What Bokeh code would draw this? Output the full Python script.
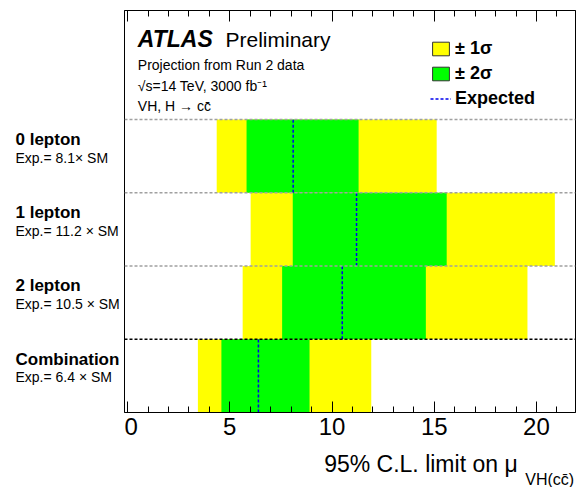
from bokeh.plotting import figure
from bokeh.models import (Range1d, ColumnDataSource, Span, LinearAxis,
                          SingleIntervalTicker, Legend, LegendItem, Spacer,
                          CustomJSTickFormatter)
from bokeh.layouts import row, column
from bokeh.embed import file_html
from bokeh.resources import INLINE
from bokeh.core.properties import value

# ---- data ----
categories = ["0 lepton", "1 lepton", "2 lepton", "Combination"]
exp_labels = ["Exp.= 8.1\u00d7 SM", "Exp.= 11.2 \u00d7 SM", "Exp.= 10.5 \u00d7 SM", "Exp.= 6.4 \u00d7 SM"]
expected = [8.1, 11.2, 10.5, 6.4]
band1_lo = [4.36, 6.02, 5.63, 3.44]     # yellow (outer)
band1_hi = [15.12, 20.90, 19.56, 11.92]
band2_lo = [5.82, 8.08, 7.56, 4.59]     # green (inner)
band2_hi = [11.30, 15.61, 14.59, 8.90]
x_ticks_major = 5

FONT = "Liberation Sans"

n = len(categories)
bottoms = [n - 1 - i for i in range(n)]
tops = [b + 1 for b in bottoms]

xr = Range1d(-0.15, 21.91)
yr = Range1d(0, 5.49)

# ---------------- main plot ----------------
p = figure(width=452, height=445, output_backend="svg", toolbar_location=None,
           x_range=xr, y_range=yr, x_axis_location=None, y_axis_location=None,
           min_border_left=0, min_border_right=1, min_border_top=10, min_border_bottom=33)
p.outline_line_color = "black"
p.outline_line_width = 1
p.background_fill_color = "white"
p.border_fill_color = "white"
p.xgrid.visible = False
p.ygrid.visible = False

xa = LinearAxis(ticker=SingleIntervalTicker(interval=x_ticks_major, num_minor_ticks=5),
                major_tick_in=11, major_tick_out=0, minor_tick_in=6, minor_tick_out=0,
                major_label_text_font=FONT, major_label_text_font_size="24px",
                major_label_text_color="black", major_label_standoff=5,
                axis_line_color="black", major_tick_line_color="black",
                minor_tick_line_color="black")
p.add_layout(xa, "below")

ta = LinearAxis(ticker=SingleIntervalTicker(interval=x_ticks_major, num_minor_ticks=5),
                formatter=CustomJSTickFormatter(code="return ''"),
                major_tick_in=11, major_tick_out=0, minor_tick_in=6, minor_tick_out=0,
                major_label_standoff=0, axis_line_color="black")
p.add_layout(ta, "above")

src = ColumnDataSource(dict(b=bottoms, t=tops, olo=band1_lo, ohi=band1_hi,
                            ilo=band2_lo, ihi=band2_hi, exp=expected))
p.quad(left="olo", right="ohi", bottom="b", top="t", source=src,
       fill_color="#ffff00", line_color=None)
p.quad(left="ilo", right="ihi", bottom="b", top="t", source=src,
       fill_color="#00ff00", line_color=None)
p.segment(x0="exp", x1="exp", y0="b", y1="t", source=src,
          line_color="#0000ee", line_dash="3 2", line_width=1.5)

for k in range(1, n + 1):
    p.add_layout(Span(location=k, dimension="width",
                      line_color="black" if k == 1 else "#a0a0a0",
                      line_dash="3 2", line_width=1.5))

# legend glyph renderers (hidden in the plot, shown in the legend)
r1 = p.quad(left="olo", right="ohi", bottom="b", top="t", source=src,
            fill_color="#ffff00", line_color="#333333", visible=False)
r2 = p.quad(left="ilo", right="ihi", bottom="b", top="t", source=src,
            fill_color="#00ff00", line_color="#333333", visible=False)
r3 = p.segment(x0="olo", x1="ohi", y0="b", y1="b", source=src,
               line_color="#0000ee", line_dash="3 2", line_width=1.5, visible=False)
legend = Legend(items=[LegendItem(label="\u00b1 1\u03c3", renderers=[r1]),
                       LegendItem(label="\u00b1 2\u03c3", renderers=[r2]),
                       LegendItem(label="Expected", renderers=[r3])],
                location=(306, 303), glyph_width=21, glyph_height=17,
                label_height=17, spacing=4, padding=0, margin=0,
                border_line_color=None, background_fill_alpha=0,
                inactive_fill_alpha=0,
                label_text_font=FONT, label_text_font_size="18px",
                label_text_font_style="bold", label_text_color="black",
                label_standoff=4)
p.add_layout(legend)

# header texts inside the frame
head = ColumnDataSource(dict(
    x=[0.50, 4.79, 0.50, 0.50, 0.50],
    y=[5.10, 5.10, 4.74, 4.455, 4.18],
    text=["ATLAS", "Preliminary", "Projection from Run 2 data",
          "\u221as=14 TeV, 3000 fb\u207b\u00b9", "VH, H \u2192 cc\u0304"],
    size=["23px", "21px", "14px", "14px", "14px"],
    style=["bold italic", "normal", "normal", "normal", "normal"]))
p.text(x="x", y="y", text="text", source=head, text_font=value(FONT),
       text_font_size="size", text_font_style="style", text_color="black",
       text_baseline="alphabetic", text_align="left")

# ---------------- left label panel ----------------
lp = figure(width=124, height=445, output_backend="svg", toolbar_location=None,
            x_range=Range1d(0, 124), y_range=yr, x_axis_location=None, y_axis_location=None,
            min_border_left=0, min_border_right=0, min_border_top=10, min_border_bottom=33)
lp.outline_line_color = None
lp.xgrid.visible = False
lp.ygrid.visible = False
lsrc = ColumnDataSource(dict(cat=categories, exp=exp_labels,
                             ty=[b + 0.73 for b in bottoms], ey=[b + 0.48 for b in bottoms]))
lp.text(x=15, y="ty", text="cat", source=lsrc, text_font=value(FONT),
        text_font_size=value("17px"), text_font_style="bold", text_color="black",
        text_baseline="alphabetic")
lp.text(x=15, y="ey", text="exp", source=lsrc, text_font=value(FONT),
        text_font_size=value("14px"), text_color="black", text_baseline="alphabetic")

# ---------------- axis title panel ----------------
bp = figure(width=452, height=42, output_backend="svg", toolbar_location=None,
            x_range=xr, y_range=Range1d(0, 42), x_axis_location=None, y_axis_location=None,
            min_border_left=0, min_border_right=1, min_border_top=0, min_border_bottom=0)
bp.outline_line_color = None
bp.xgrid.visible = False
bp.ygrid.visible = False
tsrc = ColumnDataSource(dict(x=[19.08, 19.45], y=[24, 8],
                             text=["95% C.L. limit on \u03bc", "VH(cc\u0304)"],
                             size=["23px", "16px"], align=["right", "left"]))
bp.text(x="x", y="y", text="text", source=tsrc, text_font=value(FONT),
        text_font_size="size", text_align="align", text_color="black",
        text_baseline="alphabetic")

layout = column(row(lp, p), row(Spacer(width=124, height=42), bp))
open("out.html", "w").write(file_html(layout, INLINE))
